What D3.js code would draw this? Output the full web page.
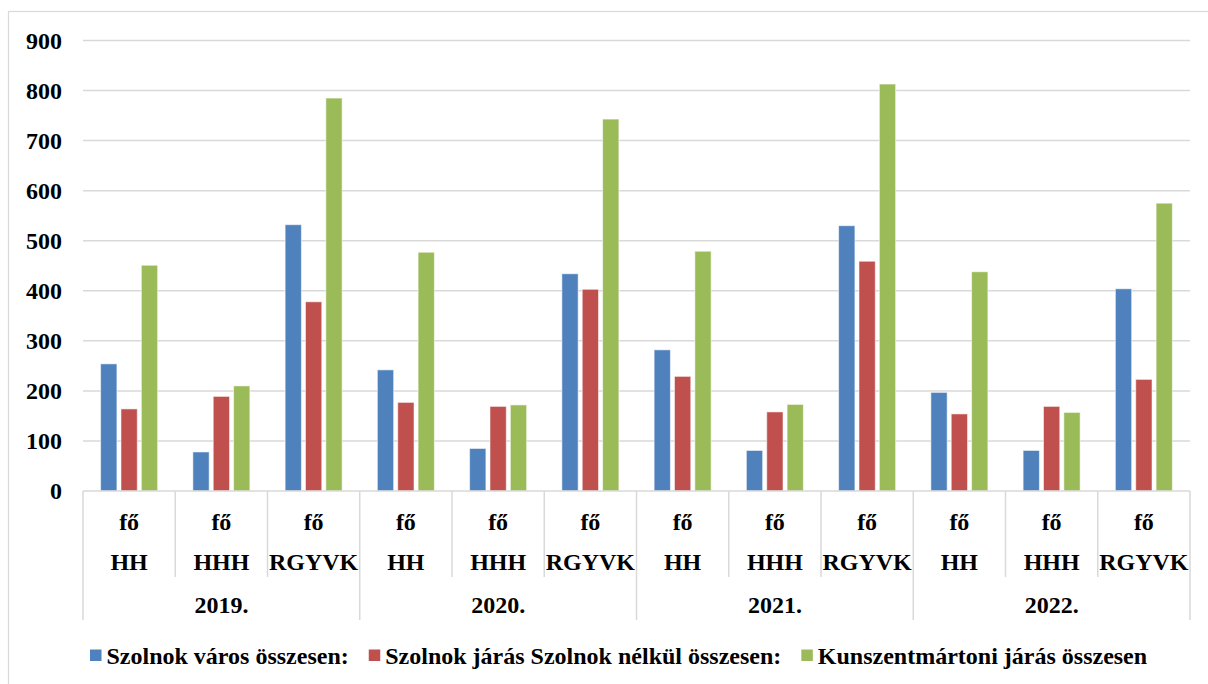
<!DOCTYPE html>
<html>
<head>
<meta charset="utf-8">
<script src="https://cdn.jsdelivr.net/npm/d3@7"></script>
<style>
  html, body { margin: 0; padding: 0; background: #fff; }
  svg { display: block; }
  text { font-family: "Liberation Serif", "Times New Roman", serif; font-weight: bold; fill: #000; }
</style>
</head>
<body>
<svg id="chart" width="1208" height="684"></svg>
<script>
// ---- data ----
const years = ["2019.", "2020.", "2021.", "2022."];
const groups = ["HH", "HHH", "RGYVK"];
const unitLabel = "fő";
const seriesNames = [
  "Szolnok város összesen:",
  "Szolnok járás Szolnok nélkül összesen:",
  "Kunszentmártoni járás összesen"
];
const seriesColors = ["#4F81BD", "#C0504D", "#9BBB59"];
// values per category in order 2019 HH, HHH, RGYVK, 2020 ..., 2022 ...
const szolnokVaros   = [254, 78, 532,  242, 85, 434,  282, 81, 530,  197, 81, 404];
const szolnokJaras   = [164, 189, 378, 177, 169, 403, 229, 158, 459, 154, 169, 223];
const kunszentmarton = [451, 210, 785, 477, 172, 743, 479, 173, 813, 438, 157, 575];
const yTicks = [0, 100, 200, 300, 400, 500, 600, 700, 800, 900];

const seriesValues = [szolnokVaros, szolnokJaras, kunszentmarton];
const categories = [];
years.forEach((y, yi) => groups.forEach((g, gi) => categories.push({ year: y, group: g, idx: yi * groups.length + gi })));

// ---- layout ----
const svg = d3.select("#chart");
const plotLeft = 83, plotRight = 1190, plotTop = 40.5, plotBottom = 491;
const gridColor = "#D9D9D9";

// chart border
svg.append("rect")
  .attr("x", 8.5).attr("y", 11.5).attr("width", 1230).attr("height", 720)
  .attr("fill", "none").attr("stroke", gridColor).attr("stroke-width", 1.2);

const y = d3.scaleLinear().domain([0, 900]).range([plotBottom, plotTop]);
const x0 = d3.scaleBand().domain(categories.map(c => c.idx)).range([plotLeft, plotRight]).paddingInner(0).paddingOuter(0);
const x1 = d3.scaleBand().domain(d3.range(seriesNames.length)).range([0, x0.bandwidth()]).paddingInner(0.2).paddingOuter(0.865);

// gridlines
svg.append("g").selectAll("line").data(yTicks.filter(t => t > 0)).join("line")
  .attr("x1", plotLeft).attr("x2", plotRight)
  .attr("y1", d => y(d)).attr("y2", d => y(d))
  .attr("stroke", gridColor).attr("stroke-width", 1.5);

// y axis labels
const yAxis = d3.axisLeft(y).tickValues(yTicks).tickSize(0).tickPadding(21).tickFormat(d3.format("d"));
const gy = svg.append("g").attr("transform", `translate(${plotLeft},0)`).call(yAxis);
gy.select(".domain").remove();
gy.selectAll("text").style("font-size", "24px").style("font-family", "'Liberation Serif', 'Times New Roman', serif").style("font-weight", "bold");

// bars
const cat = svg.append("g").selectAll("g").data(categories).join("g")
  .attr("transform", d => `translate(${x0(d.idx)},0)`);
cat.selectAll("rect").data(d => seriesValues.map((arr, si) => ({ si, v: arr[d.idx] }))).join("rect")
  .attr("x", d => x1(d.si))
  .attr("width", x1.bandwidth())
  .attr("y", d => y(d.v))
  .attr("height", d => y(0) - y(d.v))
  .attr("fill", d => seriesColors[d.si])
  .attr("stroke", "#ffffff").attr("stroke-opacity", 0.55).attr("stroke-width", 1);

// x axis base line
svg.append("line").attr("x1", plotLeft).attr("x2", plotRight).attr("y1", plotBottom).attr("y2", plotBottom)
  .attr("stroke", gridColor).attr("stroke-width", 1.5);

// category separators
const bounds = d3.range(categories.length + 1);
svg.append("g").selectAll("line").data(bounds).join("line")
  .attr("x1", i => i < categories.length ? x0(i) : plotRight)
  .attr("x2", i => i < categories.length ? x0(i) : plotRight)
  .attr("y1", plotBottom)
  .attr("y2", i => i % groups.length === 0 ? 620 : 577)
  .attr("stroke", gridColor).attr("stroke-width", 1.5);

// category labels
const catLabels = svg.append("g").selectAll("g").data(categories).join("g")
  .attr("transform", d => `translate(${x0(d.idx) + x0.bandwidth() / 2},0)`);
catLabels.append("text").attr("y", 521.5).attr("dy", "0.35em").attr("text-anchor", "middle")
  .style("font-size", "24px").text(unitLabel);
catLabels.append("text").attr("y", 561.5).attr("dy", "0.35em").attr("text-anchor", "middle")
  .style("font-size", "24px").text(d => d.group);

// year labels
svg.append("g").selectAll("text").data(years).join("text")
  .attr("x", (d, i) => (x0(i * groups.length) + (i * groups.length + groups.length < categories.length ? x0(i * groups.length + groups.length) : plotRight)) / 2)
  .attr("y", 605).attr("dy", "0.35em").attr("text-anchor", "middle")
  .style("font-size", "24px").text(d => d);

// legend
const legend = svg.append("g");
const items = legend.selectAll("g").data(seriesNames).join("g");
items.append("rect").attr("width", 11.5).attr("height", 11.5).attr("y", 649.5)
  .attr("fill", (d, i) => seriesColors[i]);
items.append("text").attr("x", 16.5).attr("y", 655.5).attr("dy", "0.35em")
  .style("font-size", "24px").text(d => d);
let cx = 90;
items.each(function () {
  const g = d3.select(this);
  g.attr("transform", `translate(${cx},0)`);
  const w = g.select("text").node().getComputedTextLength();
  cx += 16.5 + w + 20;
});
</script>
</body>
</html>
